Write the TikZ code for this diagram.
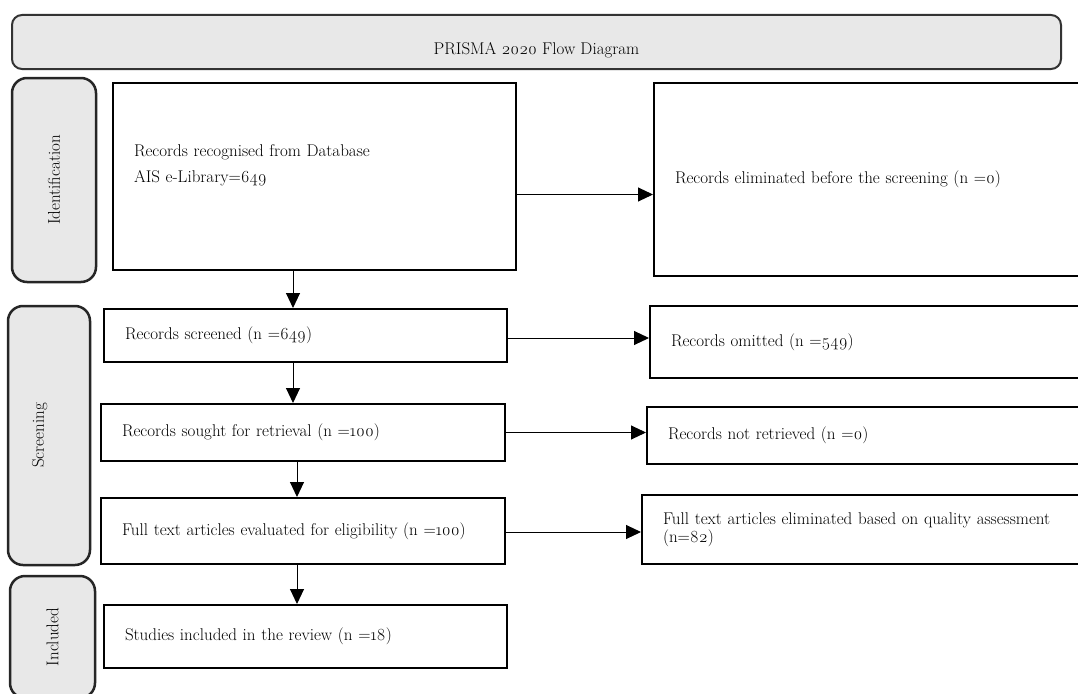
\documentclass[tikz,border=0pt]{standalone}
\usepackage{fontspec}
\setmainfont{Latin Modern Roman}[Numbers=OldStyle]
\usepackage{tikz}
\usetikzlibrary{positioning}
\usetikzlibrary{arrows.meta}
\definecolor{phasegray}{HTML}{E8E8E8}
\tikzset{>={Triangle[length=15pt,width=14pt]}}
\tikzset{
  phasebox/.style={draw=black!85, line width=2.5pt, fill=phasegray, rounded corners=15pt, inner sep=0pt},
  titlebox/.style={draw=black!80, line width=2pt, fill=phasegray, rounded corners=10pt, inner sep=0pt},
  recbox/.style={draw, line width=2pt, inner xsep=21pt, inner ysep=0pt, align=left},
  flowarrow/.style={->, line width=1pt}
}

\begin{document}
\begin{tikzpicture}[x=1pt,y=-1pt,font=\fontsize{17}{26}\selectfont]
\useasboundingbox (0,0) rectangle (1078,693);

% Title
\node[titlebox, minimum width=1049pt, minimum height=54pt, text height=26pt, text depth=0pt] (title) at (536.5,42)
  {PRISMA 2020 Flow Diagram};

% Phases
\node[phasebox, rotate=90, minimum width=204pt, minimum height=84pt] (ident) at (54,180) {Identification};
\node[phasebox, rotate=90, minimum width=259pt, minimum height=82pt, text depth=22pt] (screen) at (49,435.5) {Screening};
\node[phasebox, rotate=90, minimum width=122pt, minimum height=85pt] (incl) at (52.5,637) {Included};

% Main column
\node[recbox, minimum width=403pt, minimum height=187pt, text width=361pt, text depth=52pt] (found) at (314.5,176.5)
  {Records recognised from Database\\AIS e-Library=649};
\node[recbox, minimum width=403pt, minimum height=53pt, text width=361pt] (screened) at (305.5,335.5)
  {Records screened (n =649)};
\node[recbox, minimum width=404pt, minimum height=57pt, text width=362pt] (sought) at (303,432.5)
  {Records sought for retrieval (n =100)};
\node[recbox, minimum width=404pt, minimum height=66pt, text width=362pt] (fulltext) at (303,531)
  {Full text articles evaluated for eligibility (n =100)};
\node[recbox, minimum width=403pt, minimum height=63pt, text width=361pt] (included) at (305.5,636.5)
  {Studies included in the review (n =18)};

% Side column
\node[recbox, minimum width=436pt, minimum height=193pt, text width=394pt] (before) at (872,179.5)
  {Records eliminated before the screening (n =0)};
\node[recbox, minimum width=440pt, minimum height=72pt, text width=398pt] (omitted) at (870,342)
  {Records omitted (n =549)};
\node[recbox, minimum width=443pt, minimum height=57pt, text width=401pt] (notret) at (868.5,435.5)
  {Records not retrieved (n =0)};
\node[recbox, minimum width=448pt, minimum height=69pt, text width=406pt,
  font=\fontsize{17}{18}\selectfont] (quality) at (866,529.5)
  {Full text articles eliminated based on quality assessment\\(n=82)};

% Arrows down
\draw[flowarrow] ([xshift=-21.5pt]found.south) -- ([xshift=-21.5pt]found.south |- screened.north);
\draw[flowarrow] ([xshift=-12.5pt]screened.south) -- ([xshift=-12.5pt]screened.south |- sought.north);
\draw[flowarrow] ([xshift=-6pt]sought.south) -- ([xshift=-6pt]sought.south |- fulltext.north);
\draw[flowarrow] ([xshift=-6pt]fulltext.south) -- ([xshift=-6pt]fulltext.south |- included.north);

% Arrows right
\draw[flowarrow] ([yshift=-18pt]found.east) -- ([yshift=-18pt]found.east -| before.west);
\draw[flowarrow] ([yshift=-2.5pt]screened.east) -- ([yshift=-2.5pt]screened.east -| omitted.west);
\draw[flowarrow] (sought.east) -- (sought.east -| notret.west);
\draw[flowarrow] ([yshift=-1pt]fulltext.east) -- ([yshift=-1pt]fulltext.east -| quality.west);
\end{tikzpicture}
\end{document}
